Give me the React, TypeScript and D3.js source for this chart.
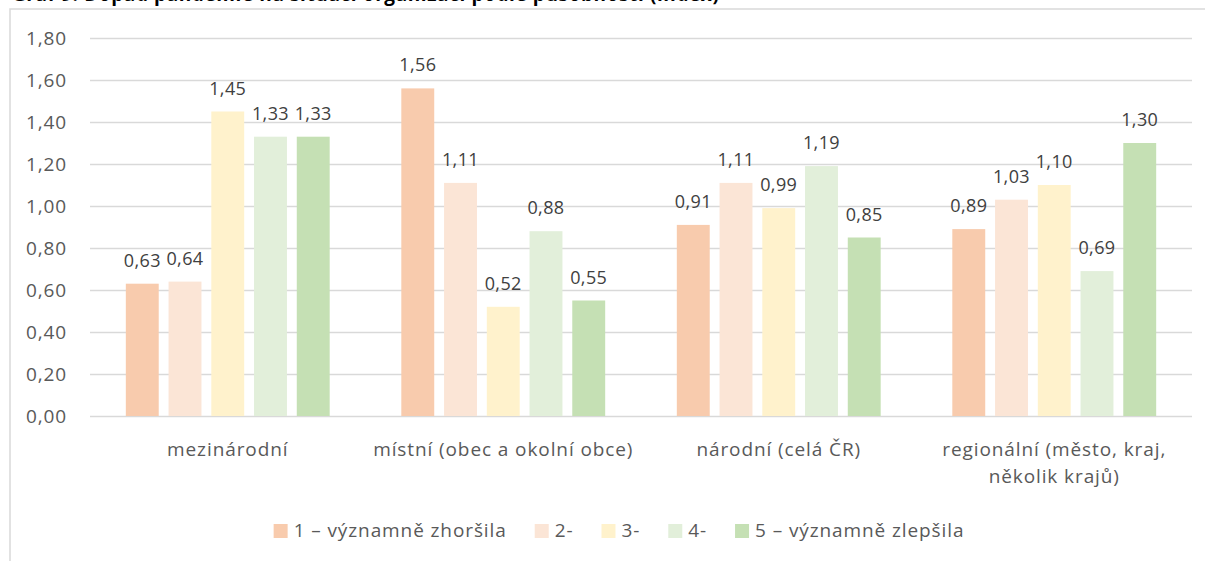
import React, { useEffect, useRef } from 'react';
import * as d3 from 'd3';

// Působnost (kategorie na ose X)
const categories = [
  ['mezinárodní'],
  ['místní (obec a okolní obce)'],
  ['národní (celá ČR)'],
  ['regionální (město, kraj,', 'několik krajů)'],
];

const seriesNames = ['1 – významně zhoršila', '2-', '3-', '4-', '5 – významně zlepšila'];
const seriesColors = ['#F8CBAD', '#FBE5D6', '#FFF2CC', '#E2EFDA', '#C5E0B4'];

// hodnoty indexu: řádek = série, sloupec = kategorie
const s1 = [0.63, 1.56, 0.91, 0.89];
const s2 = [0.64, 1.11, 1.11, 1.03];
const s3 = [1.45, 0.52, 0.99, 1.1];
const s4 = [1.33, 0.88, 1.19, 0.69];
const s5 = [1.33, 0.55, 0.85, 1.3];
const seriesValues = [s1, s2, s3, s4, s5];

const yTicks = [0, 0.2, 0.4, 0.6, 0.8, 1.0, 1.2, 1.4, 1.6, 1.8];

const title = 'Graf 9: Dopad pandemie na situaci organizací podle působnosti (index)';

const W = 1205;
const H = 561;
const FONT = '"Open Sans", sans-serif';
const fmt = (v: number) => v.toFixed(2).replace('.', ',');

export default function App() {
  const ref = useRef<SVGSVGElement>(null);

  useEffect(() => {
    const svg = d3.select(ref.current);
    svg.selectAll('*').remove();

    const left = 90, right = 1192, top = 38, bottom = 416;

    // rámeček grafu (pravý a dolní okraj jsou mimo výřez)
    svg.append('rect')
      .attr('x', 10).attr('y', 9).attr('width', 1300).attr('height', 700)
      .attr('fill', '#fff').attr('stroke', '#d9d9d9').attr('stroke-width', 1.5);

    // nadpis - ve výřezu je vidět jen jeho spodní okraj
    svg.append('text')
      .attr('x', 12).attr('y', 0.5)
      .style('font-family', FONT).style('font-size', '19px').style('font-weight', 700)
      .style('letter-spacing', '0.6px').style('fill', '#000')
      .text(title);

    const y = d3.scaleLinear().domain([0, 1.8]).range([bottom, top]);
    const x0 = d3.scaleBand<number>()
      .domain(categories.map((_, i) => i))
      .range([left, right])
      .paddingInner(0.26).paddingOuter(0.13);
    const x1 = d3.scaleBand<number>()
      .domain(seriesNames.map((_, i) => i))
      .range([0, x0.bandwidth()])
      .paddingInner(0.23).paddingOuter(0);

    // mřížka
    svg.append('g').selectAll('line').data(yTicks).enter().append('line')
      .attr('x1', left).attr('x2', right)
      .attr('y1', d => Math.round(y(d)) + 0.5).attr('y2', d => Math.round(y(d)) + 0.5)
      .attr('stroke', '#d9d9d9').attr('stroke-width', 1.5);

    // popisky osy Y
    svg.append('g').selectAll('text').data(yTicks).enter().append('text')
      .attr('x', 67).attr('y', d => y(d)).attr('dy', '0.36em')
      .attr('text-anchor', 'end')
      .style('font-family', FONT).style('font-size', '19px').style('letter-spacing', '0.9px')
      .style('fill', '#595959')
      .text(d => fmt(d));

    // sloupce
    const groups = svg.append('g').selectAll('g').data(categories).enter().append('g')
      .attr('transform', (_, i) => `translate(${x0(i)},0)`);

    seriesValues.forEach((vals, si) => {
      groups.append('rect')
        .attr('x', x1(si)!)
        .attr('width', x1.bandwidth())
        .attr('y', (_, ci) => y(vals[ci]))
        .attr('height', (_, ci) => bottom - y(vals[ci]))
        .attr('fill', seriesColors[si]);
      groups.append('text')
        .attr('x', x1(si)! + x1.bandwidth() / 2)
        .attr('y', (_, ci) => y(vals[ci]) - 17)
        .attr('text-anchor', 'middle')
        .style('font-family', FONT).style('font-size', '18px').style('letter-spacing', '0.4px')
        .style('fill', '#404040')
        .text((_, ci) => fmt(vals[ci]));
    });

    // popisky kategorií
    groups.each(function (lines) {
      const t = d3.select(this).append('text')
        .attr('text-anchor', 'middle')
        .style('font-family', FONT).style('font-size', '19px').style('letter-spacing', '0.9px')
        .style('fill', '#595959');
      (lines as string[]).forEach((ln, k) => {
        t.append('tspan').attr('x', x0.bandwidth() / 2).attr('y', 456 + k * 27).text(ln);
      });
    });

    // legenda
    const legend = svg.append('g');
    let cx = 0;
    seriesNames.forEach((name, i) => {
      const item = legend.append('g').attr('transform', `translate(${cx},0)`);
      item.append('rect').attr('x', 0).attr('y', 524).attr('width', 14).attr('height', 14)
        .attr('fill', seriesColors[i]);
      const t = item.append('text').attr('x', 20).attr('y', 537)
        .style('font-family', FONT).style('font-size', '19px').style('letter-spacing', '0.9px')
        .style('fill', '#595959').text(name);
      const w = (t.node() as SVGTextElement).getComputedTextLength();
      cx += 20 + w + 28;
    });
    const total = cx - 28;
    legend.attr('transform', `translate(${619 - total / 2},0)`);
  }, []);

  return (
    <div style={{ position: 'absolute', left: 0, top: 0, width: W, height: H, background: '#fff' }}>
      <svg ref={ref} width={W} height={H} />
    </div>
  );
}
